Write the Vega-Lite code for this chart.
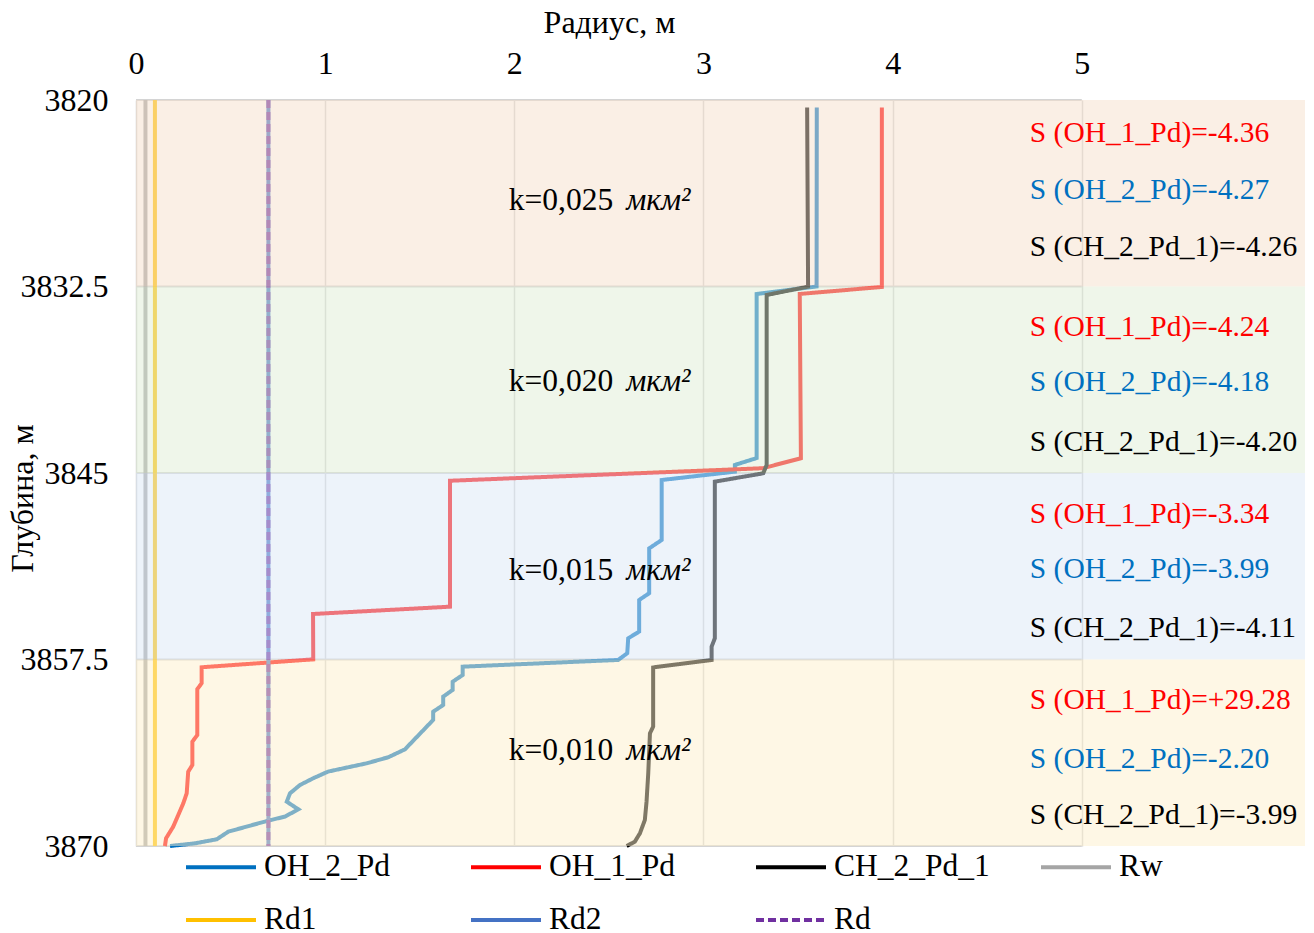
{
  "$schema": "https://vega.github.io/schema/vega-lite/v6.json",
  "width": 1169,
  "height": 746,
  "autosize": {"type": "none"},
  "padding": {"left": 136, "top": 100, "right": 9, "bottom": 87},
  "background": "white",
  "config": {
    "font": "Liberation Serif",
    "view": {"stroke": null},
    "legend": {
      "orient": "none",
      "legendX": 48,
      "legendY": 730,
      "direction": "horizontal",
      "columns": 4,
      "gridAlign": "all",
      "columnPadding": 43,
      "rowPadding": -45,
      "symbolType": "stroke",
      "symbolSize": 4900,
      "symbolStrokeWidth": 4,
      "labelFont": "Liberation Serif",
      "labelFontSize": 31.5,
      "labelColor": "#000000",
      "labelOffset": 6,
      "labelLimit": 400,
      "padding": 0,
      "title": null
    }
  },
  "datasets": {
    "curves": [
      {"s": "OH_2_Pd", "i": 1, "r": 3.599, "d": 3820.5},
      {"s": "OH_2_Pd", "i": 2, "r": 3.598, "d": 3832.5},
      {"s": "OH_2_Pd", "i": 3, "r": 3.281, "d": 3833.0},
      {"s": "OH_2_Pd", "i": 4, "r": 3.281, "d": 3844.0},
      {"s": "OH_2_Pd", "i": 5, "r": 3.166, "d": 3844.46},
      {"s": "OH_2_Pd", "i": 6, "r": 3.166, "d": 3844.91},
      {"s": "OH_2_Pd", "i": 7, "r": 2.779, "d": 3845.47},
      {"s": "OH_2_Pd", "i": 8, "r": 2.779, "d": 3849.49},
      {"s": "OH_2_Pd", "i": 9, "r": 2.713, "d": 3850.05},
      {"s": "OH_2_Pd", "i": 10, "r": 2.713, "d": 3853.06},
      {"s": "OH_2_Pd", "i": 11, "r": 2.66, "d": 3853.51},
      {"s": "OH_2_Pd", "i": 12, "r": 2.66, "d": 3855.63},
      {"s": "OH_2_Pd", "i": 13, "r": 2.602, "d": 3856.08},
      {"s": "OH_2_Pd", "i": 14, "r": 2.597, "d": 3857.08},
      {"s": "OH_2_Pd", "i": 15, "r": 2.549, "d": 3857.53},
      {"s": "OH_2_Pd", "i": 16, "r": 1.727, "d": 3857.98},
      {"s": "OH_2_Pd", "i": 17, "r": 1.727, "d": 3858.54},
      {"s": "OH_2_Pd", "i": 18, "r": 1.674, "d": 3858.99},
      {"s": "OH_2_Pd", "i": 19, "r": 1.674, "d": 3859.54},
      {"s": "OH_2_Pd", "i": 20, "r": 1.624, "d": 3859.99},
      {"s": "OH_2_Pd", "i": 21, "r": 1.624, "d": 3860.55},
      {"s": "OH_2_Pd", "i": 22, "r": 1.571, "d": 3861.0},
      {"s": "OH_2_Pd", "i": 23, "r": 1.571, "d": 3861.55},
      {"s": "OH_2_Pd", "i": 24, "r": 1.422, "d": 3863.52},
      {"s": "OH_2_Pd", "i": 25, "r": 1.334, "d": 3864.05},
      {"s": "OH_2_Pd", "i": 26, "r": 1.219, "d": 3864.46},
      {"s": "OH_2_Pd", "i": 27, "r": 1.016, "d": 3865.01},
      {"s": "OH_2_Pd", "i": 28, "r": 0.937, "d": 3865.46},
      {"s": "OH_2_Pd", "i": 29, "r": 0.867, "d": 3865.91},
      {"s": "OH_2_Pd", "i": 30, "r": 0.814, "d": 3866.47},
      {"s": "OH_2_Pd", "i": 31, "r": 0.797, "d": 3867.03},
      {"s": "OH_2_Pd", "i": 32, "r": 0.858, "d": 3867.54},
      {"s": "OH_2_Pd", "i": 33, "r": 0.788, "d": 3868.03},
      {"s": "OH_2_Pd", "i": 34, "r": 0.699, "d": 3868.3},
      {"s": "OH_2_Pd", "i": 35, "r": 0.488, "d": 3869.04},
      {"s": "OH_2_Pd", "i": 36, "r": 0.427, "d": 3869.55},
      {"s": "OH_2_Pd", "i": 37, "r": 0.312, "d": 3869.82},
      {"s": "OH_2_Pd", "i": 38, "r": 0.18, "d": 3870.0},
      {"s": "OH_1_Pd", "i": 1, "r": 3.943, "d": 3820.5},
      {"s": "OH_1_Pd", "i": 2, "r": 3.943, "d": 3832.53},
      {"s": "OH_1_Pd", "i": 3, "r": 3.509, "d": 3833.0},
      {"s": "OH_1_Pd", "i": 4, "r": 3.515, "d": 3844.01},
      {"s": "OH_1_Pd", "i": 5, "r": 3.314, "d": 3844.68},
      {"s": "OH_1_Pd", "i": 6, "r": 1.66, "d": 3845.52},
      {"s": "OH_1_Pd", "i": 7, "r": 1.66, "d": 3853.96},
      {"s": "OH_1_Pd", "i": 8, "r": 0.936, "d": 3854.45},
      {"s": "OH_1_Pd", "i": 9, "r": 0.937, "d": 3857.49},
      {"s": "OH_1_Pd", "i": 10, "r": 0.347, "d": 3858.02},
      {"s": "OH_1_Pd", "i": 11, "r": 0.347, "d": 3859.09},
      {"s": "OH_1_Pd", "i": 12, "r": 0.324, "d": 3859.49},
      {"s": "OH_1_Pd", "i": 13, "r": 0.324, "d": 3862.56},
      {"s": "OH_1_Pd", "i": 14, "r": 0.298, "d": 3863.01},
      {"s": "OH_1_Pd", "i": 15, "r": 0.298, "d": 3864.57},
      {"s": "OH_1_Pd", "i": 16, "r": 0.276, "d": 3865.02},
      {"s": "OH_1_Pd", "i": 17, "r": 0.268, "d": 3866.47},
      {"s": "OH_1_Pd", "i": 18, "r": 0.25, "d": 3867.14},
      {"s": "OH_1_Pd", "i": 19, "r": 0.197, "d": 3868.7},
      {"s": "OH_1_Pd", "i": 20, "r": 0.159, "d": 3869.48},
      {"s": "OH_1_Pd", "i": 21, "r": 0.153, "d": 3870.0},
      {"s": "CH_2_Pd_1", "i": 1, "r": 3.548, "d": 3820.5},
      {"s": "CH_2_Pd_1", "i": 2, "r": 3.553, "d": 3832.51},
      {"s": "CH_2_Pd_1", "i": 3, "r": 3.334, "d": 3833.07},
      {"s": "CH_2_Pd_1", "i": 4, "r": 3.334, "d": 3844.46},
      {"s": "CH_2_Pd_1", "i": 5, "r": 3.316, "d": 3845.02},
      {"s": "CH_2_Pd_1", "i": 6, "r": 3.06, "d": 3845.58},
      {"s": "CH_2_Pd_1", "i": 7, "r": 3.06, "d": 3856.08},
      {"s": "CH_2_Pd_1", "i": 8, "r": 3.043, "d": 3856.64},
      {"s": "CH_2_Pd_1", "i": 9, "r": 3.043, "d": 3857.53},
      {"s": "CH_2_Pd_1", "i": 10, "r": 2.734, "d": 3858.03},
      {"s": "CH_2_Pd_1", "i": 11, "r": 2.734, "d": 3862.0},
      {"s": "CH_2_Pd_1", "i": 12, "r": 2.717, "d": 3862.45},
      {"s": "CH_2_Pd_1", "i": 13, "r": 2.708, "d": 3865.13},
      {"s": "CH_2_Pd_1", "i": 14, "r": 2.699, "d": 3867.03},
      {"s": "CH_2_Pd_1", "i": 15, "r": 2.69, "d": 3868.26},
      {"s": "CH_2_Pd_1", "i": 16, "r": 2.664, "d": 3869.15},
      {"s": "CH_2_Pd_1", "i": 17, "r": 2.637, "d": 3869.71},
      {"s": "CH_2_Pd_1", "i": 18, "r": 2.594, "d": 3870.0},
      {"s": "Rw", "i": 1, "r": 0.05, "d": 3820},
      {"s": "Rw", "i": 2, "r": 0.05, "d": 3870},
      {"s": "Rd1", "i": 1, "r": 0.1, "d": 3820},
      {"s": "Rd1", "i": 2, "r": 0.1, "d": 3870},
      {"s": "Rd2", "i": 1, "r": 0.7, "d": 3820},
      {"s": "Rd2", "i": 2, "r": 0.7, "d": 3870},
      {"s": "Rd", "i": 1, "r": 0.7, "d": 3820},
      {"s": "Rd", "i": 2, "r": 0.7, "d": 3870}
    ],
    "grid": [
      {"d": 3820}, {"d": 3832.5}, {"d": 3845}, {"d": 3857.5}, {"d": 3870}
    ],
    "bands": [
      {"top": 3820, "bottom": 3832.5, "k": "0,025"},
      {"top": 3832.5, "bottom": 3845, "k": "0,020"},
      {"top": 3845, "bottom": 3857.5, "k": "0,015"},
      {"top": 3857.5, "bottom": 3870, "k": "0,010"}
    ],
    "klabels": [
      {"d": 3826.8, "label": "k=0,025"},
      {"d": 3838.9, "label": "k=0,020"},
      {"d": 3851.6, "label": "k=0,015"},
      {"d": 3863.6, "label": "k=0,010"}
    ],
    "slabels": [
      {"d": 3822.2, "src": "OH_1_Pd", "label": "S (OH_1_Pd)=-4.36"},
      {"d": 3826.0, "src": "OH_2_Pd", "label": "S (OH_2_Pd)=-4.27"},
      {"d": 3829.85, "src": "CH_2_Pd_1", "label": "S (CH_2_Pd_1)=-4.26"},
      {"d": 3835.2, "src": "OH_1_Pd", "label": "S (OH_1_Pd)=-4.24"},
      {"d": 3838.9, "src": "OH_2_Pd", "label": "S (OH_2_Pd)=-4.18"},
      {"d": 3842.9, "src": "CH_2_Pd_1", "label": "S (CH_2_Pd_1)=-4.20"},
      {"d": 3847.75, "src": "OH_1_Pd", "label": "S (OH_1_Pd)=-3.34"},
      {"d": 3851.45, "src": "OH_2_Pd", "label": "S (OH_2_Pd)=-3.99"},
      {"d": 3855.4, "src": "CH_2_Pd_1", "label": "S (CH_2_Pd_1)=-4.11"},
      {"d": 3860.2, "src": "OH_1_Pd", "label": "S (OH_1_Pd)=+29.28"},
      {"d": 3864.15, "src": "OH_2_Pd", "label": "S (OH_2_Pd)=-2.20"},
      {"d": 3867.9, "src": "CH_2_Pd_1", "label": "S (CH_2_Pd_1)=-3.99"}
    ]
  },
  "layer": [
    {
      "data": {"name": "grid"},
      "mark": {"type": "rule", "color": "#d4d4d4", "strokeWidth": 2},
      "encoding": {
        "y": {"field": "d", "type": "quantitative"},
        "x": {"datum": 0, "type": "quantitative"},
        "x2": {"datum": 5}
      }
    },
    {
      "data": {"name": "curves"},
      "mark": {"type": "line", "strokeWidth": 4},
      "encoding": {
        "x": {
          "field": "r",
          "type": "quantitative",
          "scale": {"domain": [0, 6.18], "nice": false, "zero": false},
          "axis": {
            "orient": "top",
            "values": [0, 1, 2, 3, 4, 5],
            "format": ".0f",
            "grid": true,
            "gridColor": "#d4d4d4",
            "gridWidth": 1.5,
            "domain": false,
            "ticks": false,
            "labelFlush": false,
            "labelOverlap": false,
            "labelPadding": 20,
            "labelFontSize": 32,
            "labelColor": "#000000",
            "labelFont": "Liberation Serif",
            "title": "Радиус, м",
            "titleFont": "Liberation Serif",
            "titleFontSize": 32,
            "titleFontWeight": "normal",
            "titleColor": "#000000",
            "titleX": 473,
            "titleY": -78,
            "titleBaseline": "middle",
            "titleAlign": "center"
          }
        },
        "y": {
          "field": "d",
          "type": "quantitative",
          "scale": {"domain": [3820, 3870], "reverse": true, "nice": false, "zero": false},
          "axis": {
            "orient": "left",
            "values": [3820, 3832.5, 3845, 3857.5, 3870],
            "format": ".1~f",
            "grid": false,
            "domain": false,
            "ticks": false,
            "labelFlush": false,
            "labelOverlap": false,
            "labelPadding": 28,
            "labelFontSize": 32,
            "labelColor": "#000000",
            "labelFont": "Liberation Serif",
            "labelBaseline": "middle",
            "title": "Глубина, м",
            "titleFont": "Liberation Serif",
            "titleFontSize": 32,
            "titleFontWeight": "normal",
            "titleColor": "#000000",
            "titleX": -114,
            "titleY": 398,
            "titleBaseline": "middle",
            "titleAlign": "center"
          }
        },
        "order": {"field": "i", "type": "quantitative"},
        "stroke": {
          "field": "s",
          "type": "nominal",
          "scale": {
            "domain": ["OH_2_Pd", "OH_1_Pd", "CH_2_Pd_1", "Rw", "Rd1", "Rd2", "Rd"],
            "range": ["#0070C0", "#FF0000", "#000000", "#A5A5A5", "#FFC000", "#4472C4", "#7030A0"]
          }
        },
        "strokeDash": {
          "field": "s",
          "type": "nominal",
          "scale": {
            "domain": ["OH_2_Pd", "OH_1_Pd", "CH_2_Pd_1", "Rw", "Rd1", "Rd2", "Rd"],
            "range": [[1, 0], [1, 0], [1, 0], [1, 0], [1, 0], [1, 0], [8, 4]]
          }
        }
      }
    },
    {
      "data": {"name": "bands"},
      "mark": {"type": "rect", "opacity": 0.5},
      "encoding": {
        "x": {"datum": 0, "type": "quantitative"},
        "x2": {"datum": 6.18},
        "y": {"field": "top", "type": "quantitative"},
        "y2": {"field": "bottom"},
        "fill": {
          "field": "k",
          "type": "nominal",
          "legend": null,
          "scale": {
            "domain": ["0,025", "0,020", "0,015", "0,010"],
            "range": ["#F6E0CC", "#E0EED6", "#DCE8F6", "#FEEFCB"]
          }
        }
      }
    },
    {
      "data": {"name": "klabels"},
      "mark": {"type": "text", "align": "right", "baseline": "middle", "dx": -9, "fontSize": 31.5, "font": "Liberation Serif", "color": "#000000"},
      "encoding": {
        "x": {"datum": 2.57, "type": "quantitative"},
        "y": {"field": "d", "type": "quantitative"},
        "text": {"field": "label"}
      }
    },
    {
      "data": {"name": "klabels"},
      "mark": {"type": "text", "align": "left", "baseline": "middle", "dx": 4, "fontSize": 31.5, "fontStyle": "italic", "font": "Liberation Serif", "color": "#000000"},
      "encoding": {
        "x": {"datum": 2.57, "type": "quantitative"},
        "y": {"field": "d", "type": "quantitative"},
        "text": {"value": "мкм²"}
      }
    },
    {
      "data": {"name": "slabels"},
      "mark": {"type": "text", "align": "left", "baseline": "middle", "fontSize": 29.5, "font": "Liberation Serif"},
      "encoding": {
        "x": {"datum": 4.725, "type": "quantitative"},
        "y": {"field": "d", "type": "quantitative"},
        "text": {"field": "label"},
        "color": {
          "field": "src",
          "type": "nominal",
          "legend": null,
          "scale": {
            "domain": ["OH_1_Pd", "OH_2_Pd", "CH_2_Pd_1"],
            "range": ["#FF0000", "#0070C0", "#000000"]
          }
        }
      }
    }
  ]
}
